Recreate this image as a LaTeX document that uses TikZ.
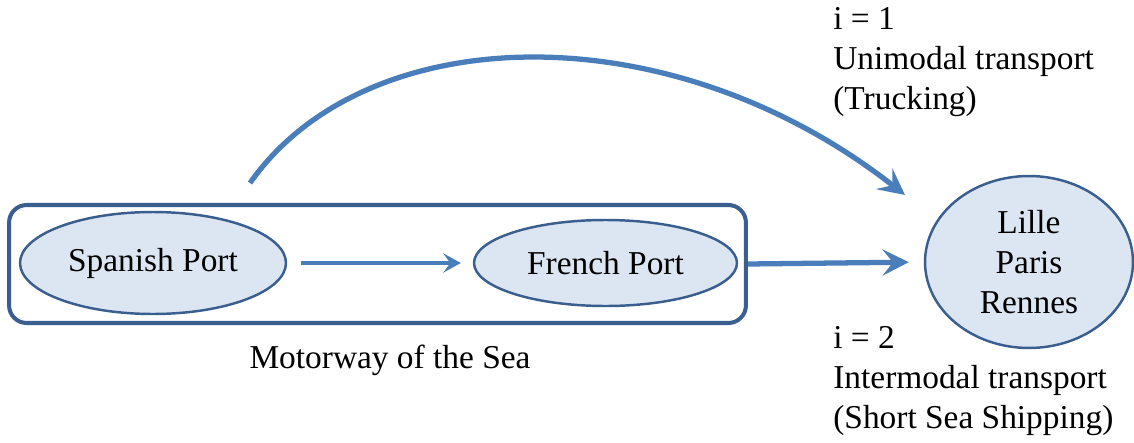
\documentclass[tikz,border=0pt]{standalone}
\usepackage{fontspec}
\setmainfont{Liberation Serif}
\usepackage{tikz}
\usetikzlibrary{positioning,arrows.meta,shapes.geometric}
\definecolor{portline}{HTML}{3A5F8F}
\definecolor{portfill}{HTML}{DCE6F2}
\definecolor{flowblue}{HTML}{4A7EBB}
\tikzset{
  ms txt/.style={font=\fontsize{19}{22.7}\selectfont, inner sep=0pt},
  ms port/.style={ms txt, ellipse, draw=portline, line width=1.4pt, fill=portfill, align=center},
  ms sea/.style={draw=portline, line width=2.3pt, rounded corners=10pt},
  ms arr/.style={-{Stealth[length=10pt, width=11pt, inset=4pt]}, line width=2.2pt, flowblue},
  ms big/.style={-{Stealth[length=15pt, width=15pt, inset=6pt]}, line width=3pt, flowblue},
  ms note/.style={ms txt, align=left, anchor=west},
}
\begin{document}
\begin{tikzpicture}[x=0.02cm, y=-0.02cm]
  \useasboundingbox (0,0) rectangle (1134,443);
  % sea leg: the two ports inside the motorway box
  \node[ms sea, minimum width=14.74cm, minimum height=2.36cm] (sea) at (377.5,264) {};
  \node[ms port, minimum width=5.32cm, minimum height=2.04cm] (spain) at (153,263) {Spanish Port};
  \node[ms port, minimum width=5.26cm, minimum height=1.72cm] (france) at (605.5,263) {French Port};
  \node[ms txt] (mos) at (390,360) {Motorway of the Sea};
  % destinations
  \node[ms port, minimum width=4.16cm, minimum height=3.44cm] (cities) at (1029,262) {Lille\\Paris\\Rennes};
  % mode labels
  \node[ms note] (mode1) at (833,62) {i = 1\\Unimodal transport\\(Trucking)};
  \node[ms note] (mode2) at (833,381) {i = 2\\Intermodal transport\\(Short Sea Shipping)};
  % connectors
  \draw[ms arr, shorten <=0.28cm, shorten >=0.24cm] (spain) -- (france);
  \draw[ms big, shorten >=0.3cm] (sea.east) -- (cities.west);
  \coordinate (trkA) at (250,183);
  \coordinate (trkB) at (905,195);
  \draw[ms big] (trkA) .. controls (365,19) and (669,10) .. (trkB);
\end{tikzpicture}
\end{document}
